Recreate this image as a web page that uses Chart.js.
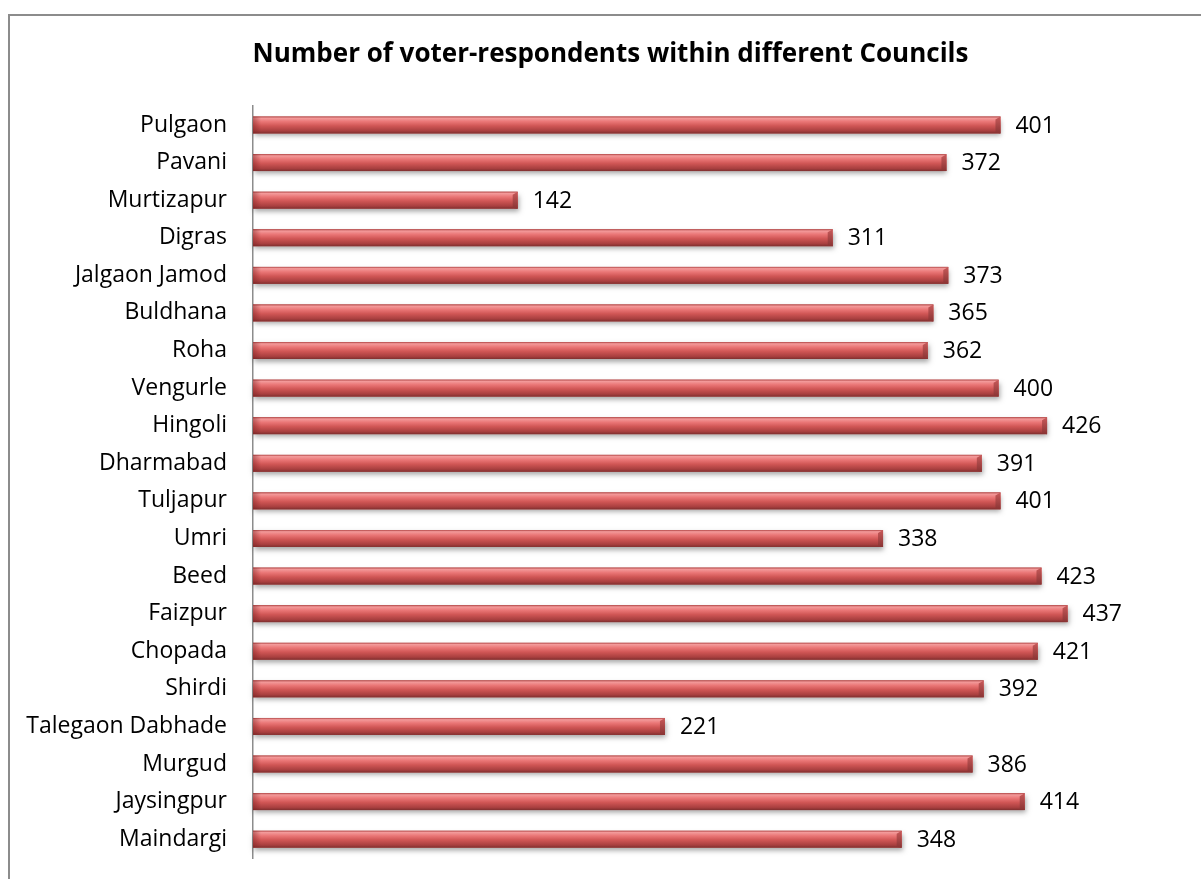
<!DOCTYPE html>
<html>
<head>
<meta charset="utf-8">
<title>Voter respondents by council</title>
<script src="https://cdn.jsdelivr.net/npm/chart.js@4.4.1/dist/chart.umd.min.js"></script>
<style>
    body { margin: 0; background: #fff; overflow: hidden; }
    #frame {
        position: absolute; left: 8px; top: 14px; width: 1400px; height: 1000px;
        border-left: 2px solid #8c8c8c; border-top: 2px solid #8c8c8c;
        pointer-events: none;
    }
    #chart { position: absolute; left: 0; top: 0; }
</style>
</head>
<body>
<canvas id="chart" width="1201" height="879"></canvas>
<div id="frame"></div>
<script>
const councils = ['Pulgaon', 'Pavani', 'Murtizapur', 'Digras', 'Jalgaon Jamod', 'Buldhana', 'Roha',
    'Vengurle', 'Hingoli', 'Dharmabad', 'Tuljapur', 'Umri', 'Beed', 'Faizpur', 'Chopada', 'Shirdi',
    'Talegaon Dabhade', 'Murgud', 'Jaysingpur', 'Maindargi'];
const respondents = [401, 372, 142, 311, 373, 365, 362, 400, 426, 391, 401, 338, 423, 437, 421, 392,
    221, 386, 414, 348];
const axisMax = 500;

const FONT = "'Open Sans', 'DejaVu Sans', sans-serif";

// shaded "cylinder" bars with a soft drop shadow, plus value labels at the bar ends
const cylinderBars = {
    id: 'cylinderBars',
    afterLayout(chart) {
        // centre the title over the whole framed chart, not only the inner box
        chart.titleBlock.left = 20;
        chart.titleBlock.right = chart.width;
    },
    afterDatasetsDraw(chart) {
        const ctx = chart.ctx;
        const meta = chart.getDatasetMeta(0);
        meta.data.forEach((bar, i) => {
            const { x, y, base, height } = bar.getProps(['x', 'y', 'base', 'height'], true);
            const top = y - height / 2;
            const left = base;
            const w = x - base;

            ctx.save();
            ctx.shadowColor = 'rgba(0,0,0,0.35)';
            ctx.shadowBlur = 5;
            ctx.shadowOffsetX = 1;
            ctx.shadowOffsetY = 3;
            ctx.fillStyle = '#c0504d';
            ctx.fillRect(left, top, w, height);
            ctx.restore();

            const grad = ctx.createLinearGradient(0, top, 0, top + height);
            grad.addColorStop(0, '#b34848');
            grad.addColorStop(0.1, '#f39a9a');
            grad.addColorStop(0.3, '#ea7676');
            grad.addColorStop(0.55, '#d05655');
            grad.addColorStop(0.85, '#a83f3f');
            grad.addColorStop(1, '#7f2f2f');
            ctx.fillStyle = grad;
            ctx.fillRect(left, top, w, height);

            // bevelled left end
            const lg = ctx.createLinearGradient(left, 0, left + 8, 0);
            lg.addColorStop(0, 'rgba(120,30,30,0.45)');
            lg.addColorStop(1, 'rgba(120,30,30,0)');
            ctx.fillStyle = lg;
            ctx.fillRect(left, top, 8, height);

            // end cap on the right
            const cap = 5;
            ctx.beginPath();
            ctx.moveTo(x - cap, top + 3);
            ctx.lineTo(x, top);
            ctx.lineTo(x, top + height);
            ctx.lineTo(x - cap, top + height - 1);
            ctx.closePath();
            const cg = ctx.createLinearGradient(0, top, 0, top + height);
            cg.addColorStop(0, '#c85a5a');
            cg.addColorStop(1, '#8a3434');
            ctx.fillStyle = cg;
            ctx.fill();

            ctx.fillStyle = '#000';
            ctx.font = '23px ' + FONT;
            ctx.textAlign = 'left';
            ctx.textBaseline = 'middle';
            ctx.fillText(String(respondents[i]), x + 15, y + 1);
        });
    }
};

new Chart(document.getElementById('chart'), {
    type: 'bar',
    data: {
        labels: councils,
        datasets: [{
            data: respondents,
            backgroundColor: 'rgba(0,0,0,0)',
            borderWidth: 0,
            categoryPercentage: 1,
            barPercentage: 0.45
        }]
    },
    options: {
        indexAxis: 'y',
        responsive: false,
        animation: false,
        layout: { padding: { left: 20, right: 16, top: 0, bottom: 21 } },
        scales: {
            x: { display: false, min: 0, max: axisMax },
            y: {
                grid: { display: false, drawTicks: false },
                border: { display: true, color: '#8c8c8c', width: 1.5 },
                ticks: { color: '#000', font: { family: FONT, size: 23 }, padding: 26 },
                afterFit(scale) {
                    scale.width = 233;
                    scale.paddingTop = 0;
                    scale.paddingBottom = 0;
                }
            }
        },
        plugins: {
            legend: { display: false },
            tooltip: { enabled: false },
            title: {
                display: true,
                text: 'Number of voter-respondents within different Councils',
                color: '#000',
                font: { family: FONT, size: 26, weight: 'bold' },
                padding: { top: 39, bottom: 36 }
            }
        }
    },
    plugins: [cylinderBars]
});
</script>
</body>
</html>
